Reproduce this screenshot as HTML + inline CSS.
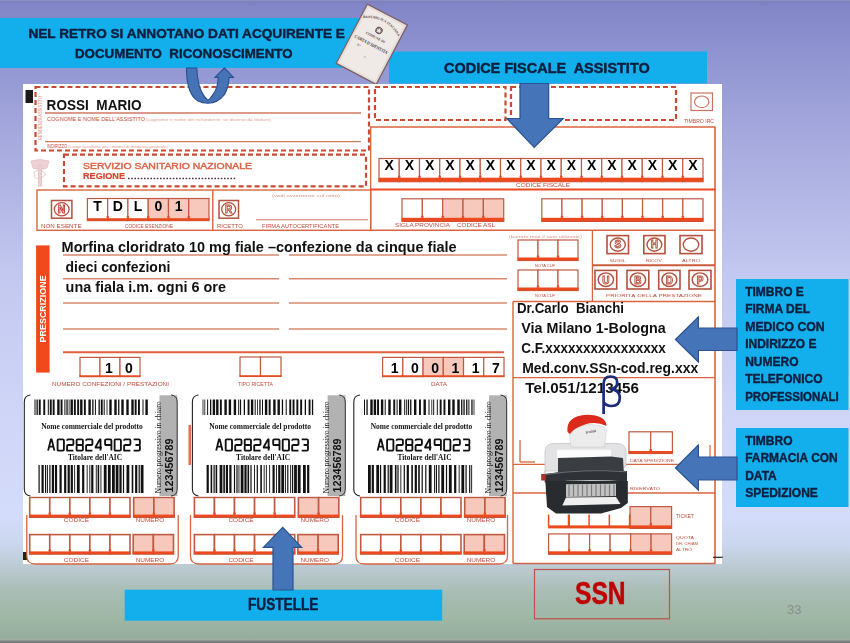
<!DOCTYPE html>
<html><head><meta charset="utf-8">
<style>
*{margin:0;padding:0}
html,body{width:850px;height:643px;overflow:hidden}
body{position:relative;font-family:"Liberation Sans",sans-serif;
background:linear-gradient(to bottom,#9a9cb8 0px,#7c80bc 1px,#8286c8 6px,#9ca0d8 100px,#afb3e3 180px,#c3c8f0 275px,#ced4f6 400px,#d4dcfb 515px,#cad6ee 545px,#b8c8cc 572px,#a8bcb4 592px,#a0b8a6 615px,#95ad9d 639px,#a8aca8 640px,#7a807e 641px,#767c7a 643px)}
svg{position:absolute;left:0;top:0;filter:blur(0.3px)}
</style></head><body>
<svg width="850" height="643" viewBox="0 0 850 643">
<defs><g id="aic" fill="none" stroke="#111" stroke-width="1.85" stroke-linejoin="round"><path transform="translate(1.30,0)" d="M0 11.2 L2.75 0 H3.55 L6.3 11.2 M1.134 7.167999999999999 H5.1659999999999995"/><path transform="translate(10.80,0)" d="M1.1 0 H5.199999999999999 Q6.3 0 6.3 1.1 V10.1 Q6.3 11.2 5.199999999999999 11.2 H1.1 Q0 11.2 0 10.1 V1.1 Q0 0 1.1 0 Z"/><path transform="translate(20.30,0)" d="M0 1.3 Q0 0 1.1 0 H5.199999999999999 Q6.3 0 6.3 1.1 V4.5 Q6.3 5.6 5.199999999999999 5.6 H1.1 Q0 5.6 0 6.699999999999999 V11.2 H6.3"/><path transform="translate(29.80,0)" d="M1.1 0 H5.199999999999999 Q6.3 0 6.3 1.1 V4.5 Q6.3 5.6 5.199999999999999 5.6 H1.1 Q0 5.6 0 4.5 V1.1 Q0 0 1.1 0 Z M1.1 5.6 H5.199999999999999 Q6.3 5.6 6.3 6.699999999999999 V10.1 Q6.3 11.2 5.199999999999999 11.2 H1.1 Q0 11.2 0 10.1 V6.699999999999999 Q0 5.6 1.1 5.6"/><path transform="translate(39.30,0)" d="M0 1.3 Q0 0 1.1 0 H5.199999999999999 Q6.3 0 6.3 1.1 V4.5 Q6.3 5.6 5.199999999999999 5.6 H1.1 Q0 5.6 0 6.699999999999999 V11.2 H6.3"/><path transform="translate(48.80,0)" d="M4.914 11.2 V0 H4.284 L0 7.616 V8.064 H6.3"/><path transform="translate(58.30,0)" d="M6.3 5.6 H1.1 Q0 5.6 0 4.5 V1.1 Q0 0 1.1 0 H5.199999999999999 Q6.3 0 6.3 1.1 V11.2"/><path transform="translate(67.80,0)" d="M1.1 0 H5.199999999999999 Q6.3 0 6.3 1.1 V10.1 Q6.3 11.2 5.199999999999999 11.2 H1.1 Q0 11.2 0 10.1 V1.1 Q0 0 1.1 0 Z"/><path transform="translate(77.30,0)" d="M0 1.3 Q0 0 1.1 0 H5.199999999999999 Q6.3 0 6.3 1.1 V4.5 Q6.3 5.6 5.199999999999999 5.6 H1.1 Q0 5.6 0 6.699999999999999 V11.2 H6.3"/><path transform="translate(86.80,0)" d="M0 0 H5.199999999999999 Q6.3 0 6.3 1.1 V4.5 Q6.3 5.6 5.199999999999999 5.6 H1.89 M5.199999999999999 5.6 Q6.3 5.6 6.3 6.699999999999999 V10.1 Q6.3 11.2 5.199999999999999 11.2 H0"/></g></defs>
<rect x="0" y="18" width="362" height="50" fill="#12afec"/>
<rect x="389" y="51.5" width="318" height="32" fill="#12afec"/>
<g transform="translate(371.8,44.2) rotate(27.7)">
<rect x="-22.6" y="-33.5" width="45.2" height="67" fill="#e8e0da" stroke="#7c6066" stroke-width="1.3"/>
<rect x="-20.5" y="-31.5" width="41" height="63" fill="#efeae6" stroke="#dcd2cc" stroke-width="0.5"/>
<path id="arc" d="M-20 -19 Q0 -32 20 -19" fill="none"/>
<text font-family="Liberation Serif" font-size="3.6" font-weight="bold" fill="#5a4a4a"><textPath href="#arc" startOffset="50%" text-anchor="middle">REPUBBLICA ITALIANA</textPath></text>
<circle cx="0" cy="-15.5" r="3.4" fill="#8a7a7a" stroke="#4a3a3a" stroke-width="0.6"/>
<path d="M0 -18 L0.9 -16.2 L2.6 -16 L1.3 -14.8 L1.6 -13 L0 -14 L-1.6 -13 L-1.3 -14.8 L-2.6 -16 L-0.9 -16.2 Z" fill="#f0eaea"/>
<text x="0" y="-6.5" font-family="Liberation Serif" font-size="3.6" font-weight="bold" fill="#5a4a4a" text-anchor="middle">COMUNE DI</text>
<text x="0" y="2" font-family="Liberation Serif" font-size="4.6" font-weight="bold" fill="#4a3a3a" text-anchor="middle" textLength="38" lengthAdjust="spacingAndGlyphs">CARTA D'IDENTITA'</text>
<text x="-13" y="8" font-family="Liberation Serif" font-size="3.6" fill="#5a4a4a">N°</text>
<text x="0" y="16" font-family="Liberation Serif" font-size="4" fill="#5a4a4a" text-anchor="middle">=</text>
</g>
<rect x="23" y="84" width="699" height="480" fill="#fff"/>
<rect x="25.5" y="90" width="7.5" height="13" fill="#1a1a1a"/>
<rect x="35.5" y="87" width="333.5" height="63.5" fill="none" stroke="#c84a32" stroke-width="2.2" stroke-dasharray="5 3"/>
<line x1="45" y1="113" x2="361" y2="113" stroke="#d07a62" stroke-width="1.4"/>
<text x="47" y="121" font-family="Liberation Sans" font-size="5.4" font-weight="normal" fill="#c24e3e" textLength="98" lengthAdjust="spacingAndGlyphs">COGNOME E NOME DELL'ASSISTITO</text>
<text x="146" y="121" font-family="Liberation Sans" font-size="3.6" font-weight="normal" fill="#e2a094" textLength="125" lengthAdjust="spacingAndGlyphs">(cognome e nome del richiedente, se diverso da titolare)</text>
<line x1="45" y1="141.6" x2="361" y2="141.6" stroke="#d07a62" stroke-width="1.2"/>
<text x="47" y="148" font-family="Liberation Sans" font-size="5.2" font-weight="normal" fill="#c24e3e" textLength="20" lengthAdjust="spacingAndGlyphs">INDIRIZZO</text>
<text x="68" y="148" font-family="Liberation Sans" font-size="3.6" font-weight="normal" fill="#e2a094" textLength="100" lengthAdjust="spacingAndGlyphs">(campi facoltativi per i medici di medicina generale)</text>
<text transform="translate(42,140) rotate(-90)" font-family="Liberation Sans" font-size="4.6" fill="#e09080" textLength="44" lengthAdjust="spacingAndGlyphs">RESIDENZA ASSISTITO</text>
<rect x="64" y="154.7" width="302" height="31.600000000000023" fill="none" stroke="#c84a32" stroke-width="2.2" stroke-dasharray="5 3"/>
<g fill="#ecd2d2" stroke="#e6c0c0" stroke-width="0.8"><path d="M31 161 Q40 158 49 161 L47 168 Q40 171 33 168 Z"/><rect x="38.5" y="165" width="3" height="21"/><path d="M34 172 Q40 168 46 174 Q40 180 35 178 Z" fill="none"/></g>
<text x="83" y="168.8" font-family="Liberation Sans" font-size="8.8" font-weight="normal" fill="#e06448" textLength="169" lengthAdjust="spacingAndGlyphs" stroke="#e06448" stroke-width="0.45">SERVIZIO SANITARIO NAZIONALE</text>
<text x="83" y="179.4" font-family="Liberation Sans" font-size="9.4" font-weight="bold" fill="#d8442e" textLength="42" lengthAdjust="spacingAndGlyphs" stroke="#d8442e" stroke-width="0.2">REGIONE</text>
<line x1="128" y1="178.5" x2="236" y2="178.5" stroke="#50304a" stroke-width="1.6" stroke-dasharray="1.6 1.6"/>
<rect x="375" y="87" width="130.5" height="33" fill="none" stroke="#c84a32" stroke-width="2.2" stroke-dasharray="5 3"/>
<rect x="511" y="87" width="165" height="33" fill="none" stroke="#c84a32" stroke-width="2.2" stroke-dasharray="5 3"/>
<rect x="691" y="93" width="21.5" height="17.5" fill="none" stroke="#c9735c" stroke-width="1.2"/>
<ellipse cx="701.7" cy="101.8" rx="7.2" ry="5.8" fill="none" stroke="#c9735c" stroke-width="1.2"/>
<text x="684" y="122.5" font-family="Liberation Sans" font-size="4.6" font-weight="normal" fill="#c24e3e" textLength="30" lengthAdjust="spacingAndGlyphs">TIMBRO IRC</text>
<line x1="370.7" y1="126.6" x2="370.7" y2="230.5" stroke="#d9643f" stroke-width="1.3"/>
<line x1="370" y1="127" x2="715.5" y2="127" stroke="#d9643f" stroke-width="1.6"/>
<line x1="715" y1="127" x2="715" y2="563.5" stroke="#d9643f" stroke-width="1.6"/>
<rect x="379.0" y="158.5" width="20.25" height="23.19999999999999" fill="#fff" stroke="#bf5a42" stroke-width="1.2"/>
<rect x="399.25" y="158.5" width="20.25" height="23.19999999999999" fill="#fff" stroke="#bf5a42" stroke-width="1.2"/>
<rect x="419.5" y="158.5" width="20.25" height="23.19999999999999" fill="#fff" stroke="#bf5a42" stroke-width="1.2"/>
<rect x="439.75" y="158.5" width="20.25" height="23.19999999999999" fill="#fff" stroke="#bf5a42" stroke-width="1.2"/>
<rect x="460.0" y="158.5" width="20.25" height="23.19999999999999" fill="#fff" stroke="#bf5a42" stroke-width="1.2"/>
<rect x="480.25" y="158.5" width="20.25" height="23.19999999999999" fill="#fff" stroke="#bf5a42" stroke-width="1.2"/>
<rect x="500.5" y="158.5" width="20.25" height="23.19999999999999" fill="#fff" stroke="#bf5a42" stroke-width="1.2"/>
<rect x="520.75" y="158.5" width="20.25" height="23.19999999999999" fill="#fff" stroke="#bf5a42" stroke-width="1.2"/>
<rect x="541.0" y="158.5" width="20.25" height="23.19999999999999" fill="#fff" stroke="#bf5a42" stroke-width="1.2"/>
<rect x="561.25" y="158.5" width="20.25" height="23.19999999999999" fill="#fff" stroke="#bf5a42" stroke-width="1.2"/>
<rect x="581.5" y="158.5" width="20.25" height="23.19999999999999" fill="#fff" stroke="#bf5a42" stroke-width="1.2"/>
<rect x="601.75" y="158.5" width="20.25" height="23.19999999999999" fill="#fff" stroke="#bf5a42" stroke-width="1.2"/>
<rect x="622.0" y="158.5" width="20.25" height="23.19999999999999" fill="#fff" stroke="#bf5a42" stroke-width="1.2"/>
<rect x="642.25" y="158.5" width="20.25" height="23.19999999999999" fill="#fff" stroke="#bf5a42" stroke-width="1.2"/>
<rect x="662.5" y="158.5" width="20.25" height="23.19999999999999" fill="#fff" stroke="#bf5a42" stroke-width="1.2"/>
<rect x="682.75" y="158.5" width="20.25" height="23.19999999999999" fill="#fff" stroke="#bf5a42" stroke-width="1.2"/>
<rect x="378.5" y="177.7" width="325" height="4" fill="#ec4a1e"/>
<rect x="398.05" y="175.7" width="2.4" height="2" fill="#ec4a1e"/>
<rect x="418.3" y="175.7" width="2.4" height="2" fill="#ec4a1e"/>
<rect x="438.55" y="175.7" width="2.4" height="2" fill="#ec4a1e"/>
<rect x="458.8" y="175.7" width="2.4" height="2" fill="#ec4a1e"/>
<rect x="479.05" y="175.7" width="2.4" height="2" fill="#ec4a1e"/>
<rect x="499.3" y="175.7" width="2.4" height="2" fill="#ec4a1e"/>
<rect x="519.55" y="175.7" width="2.4" height="2" fill="#ec4a1e"/>
<rect x="539.8" y="175.7" width="2.4" height="2" fill="#ec4a1e"/>
<rect x="560.05" y="175.7" width="2.4" height="2" fill="#ec4a1e"/>
<rect x="580.3" y="175.7" width="2.4" height="2" fill="#ec4a1e"/>
<rect x="600.55" y="175.7" width="2.4" height="2" fill="#ec4a1e"/>
<rect x="620.8" y="175.7" width="2.4" height="2" fill="#ec4a1e"/>
<rect x="641.05" y="175.7" width="2.4" height="2" fill="#ec4a1e"/>
<rect x="661.3" y="175.7" width="2.4" height="2" fill="#ec4a1e"/>
<rect x="681.55" y="175.7" width="2.4" height="2" fill="#ec4a1e"/>
<text x="389.12" y="170.3" font-family="Liberation Sans" font-size="14" font-weight="bold" fill="#000" text-anchor="middle">X</text>
<text x="409.38" y="170.3" font-family="Liberation Sans" font-size="14" font-weight="bold" fill="#000" text-anchor="middle">X</text>
<text x="429.62" y="170.3" font-family="Liberation Sans" font-size="14" font-weight="bold" fill="#000" text-anchor="middle">X</text>
<text x="449.88" y="170.3" font-family="Liberation Sans" font-size="14" font-weight="bold" fill="#000" text-anchor="middle">X</text>
<text x="470.12" y="170.3" font-family="Liberation Sans" font-size="14" font-weight="bold" fill="#000" text-anchor="middle">X</text>
<text x="490.38" y="170.3" font-family="Liberation Sans" font-size="14" font-weight="bold" fill="#000" text-anchor="middle">X</text>
<text x="510.62" y="170.3" font-family="Liberation Sans" font-size="14" font-weight="bold" fill="#000" text-anchor="middle">X</text>
<text x="530.88" y="170.3" font-family="Liberation Sans" font-size="14" font-weight="bold" fill="#000" text-anchor="middle">X</text>
<text x="551.12" y="170.3" font-family="Liberation Sans" font-size="14" font-weight="bold" fill="#000" text-anchor="middle">X</text>
<text x="571.38" y="170.3" font-family="Liberation Sans" font-size="14" font-weight="bold" fill="#000" text-anchor="middle">X</text>
<text x="591.62" y="170.3" font-family="Liberation Sans" font-size="14" font-weight="bold" fill="#000" text-anchor="middle">X</text>
<text x="611.88" y="170.3" font-family="Liberation Sans" font-size="14" font-weight="bold" fill="#000" text-anchor="middle">X</text>
<text x="632.12" y="170.3" font-family="Liberation Sans" font-size="14" font-weight="bold" fill="#000" text-anchor="middle">X</text>
<text x="652.38" y="170.3" font-family="Liberation Sans" font-size="14" font-weight="bold" fill="#000" text-anchor="middle">X</text>
<text x="672.62" y="170.3" font-family="Liberation Sans" font-size="14" font-weight="bold" fill="#000" text-anchor="middle">X</text>
<text x="692.88" y="170.3" font-family="Liberation Sans" font-size="14" font-weight="bold" fill="#000" text-anchor="middle">X</text>
<text x="516" y="187.3" font-family="Liberation Sans" font-size="4.6" font-weight="normal" fill="#c24e3e" textLength="54" lengthAdjust="spacingAndGlyphs">CODICE FISCALE</text>
<line x1="370" y1="189.4" x2="715.5" y2="189.4" stroke="#ec4a1e" stroke-width="2"/>
<rect x="37" y="190" width="333.7" height="40.3" fill="none" stroke="#d9643f" stroke-width="1.4"/>
<line x1="212.8" y1="190" x2="212.8" y2="230.3" stroke="#d9643f" stroke-width="1.4"/>
<rect x="51.5" y="200.5" width="20.4" height="17.7" fill="none" stroke="#b4503c" stroke-width="1.5"/>
<ellipse cx="61.7" cy="209.3" rx="7.4" ry="6.6" fill="none" stroke="#b4503c" stroke-width="1.3"/>
<text x="61.7" y="213.3" font-family="Liberation Sans" font-size="10" font-weight="bold" fill="#fff" text-anchor="middle" stroke="#c43a30" stroke-width="0.9">N</text>
<text x="41" y="227.6" font-family="Liberation Sans" font-size="5.2" font-weight="normal" fill="#c24e3e" textLength="40.6" lengthAdjust="spacingAndGlyphs">NON ESENTE</text>
<rect x="87.4" y="198.5" width="20.27" height="22.099999999999994" fill="#fff" stroke="#bf5a42" stroke-width="1.2"/>
<rect x="107.67" y="198.5" width="20.27" height="22.099999999999994" fill="#fff" stroke="#bf5a42" stroke-width="1.2"/>
<rect x="127.93" y="198.5" width="20.27" height="22.099999999999994" fill="#fff" stroke="#bf5a42" stroke-width="1.2"/>
<rect x="148.2" y="198.5" width="20.27" height="22.099999999999994" fill="#f6c9bc" stroke="#bf5a42" stroke-width="1.2"/>
<rect x="168.47" y="198.5" width="20.27" height="22.099999999999994" fill="#f6c9bc" stroke="#bf5a42" stroke-width="1.2"/>
<rect x="188.73" y="198.5" width="20.27" height="22.099999999999994" fill="#f6c9bc" stroke="#bf5a42" stroke-width="1.2"/>
<rect x="86.9" y="218.2" width="122.6" height="2.4" fill="#ec4a1e"/>
<rect x="106.47" y="216.2" width="2.4" height="2" fill="#ec4a1e"/>
<rect x="126.73" y="216.2" width="2.4" height="2" fill="#ec4a1e"/>
<rect x="147.0" y="216.2" width="2.4" height="2" fill="#ec4a1e"/>
<rect x="167.27" y="216.2" width="2.4" height="2" fill="#ec4a1e"/>
<rect x="187.53" y="216.2" width="2.4" height="2" fill="#ec4a1e"/>
<text x="97.53" y="211.2" font-family="Liberation Sans" font-size="14" font-weight="bold" fill="#000" text-anchor="middle">T</text>
<text x="117.8" y="211.2" font-family="Liberation Sans" font-size="14" font-weight="bold" fill="#000" text-anchor="middle">D</text>
<text x="138.07" y="211.2" font-family="Liberation Sans" font-size="14" font-weight="bold" fill="#000" text-anchor="middle">L</text>
<text x="158.33" y="211.2" font-family="Liberation Sans" font-size="14" font-weight="bold" fill="#000" text-anchor="middle">0</text>
<text x="178.6" y="211.2" font-family="Liberation Sans" font-size="14" font-weight="bold" fill="#000" text-anchor="middle">1</text>
<text x="125" y="227.6" font-family="Liberation Sans" font-size="5.2" font-weight="normal" fill="#c24e3e" textLength="48" lengthAdjust="spacingAndGlyphs">CODICE ESENZIONE</text>
<rect x="219" y="200.5" width="19.5" height="17.7" fill="none" stroke="#b4503c" stroke-width="1.5"/>
<ellipse cx="228.7" cy="209.3" rx="7" ry="6.6" fill="none" stroke="#b4503c" stroke-width="1.3"/>
<text x="228.7" y="213.3" font-family="Liberation Sans" font-size="10" font-weight="bold" fill="#fff" text-anchor="middle" stroke="#b4503c" stroke-width="0.9">R</text>
<text x="217" y="227.6" font-family="Liberation Sans" font-size="5.2" font-weight="normal" fill="#c24e3e" textLength="26" lengthAdjust="spacingAndGlyphs">RICETTO</text>
<text x="262" y="227.6" font-family="Liberation Sans" font-size="5.2" font-weight="normal" fill="#c24e3e" textLength="77" lengthAdjust="spacingAndGlyphs">FIRMA AUTOCERTIFICANTE</text>
<line x1="256" y1="219.8" x2="368" y2="219.8" stroke="#d07a62" stroke-width="1.1"/>
<text x="272" y="197" font-family="Liberation Sans" font-size="4.2" font-weight="normal" fill="#d89484" textLength="68" lengthAdjust="spacingAndGlyphs">(vedi avvertenze sul retro)</text>
<rect x="402.0" y="198.8" width="20.34" height="22.599999999999994" fill="#fff" stroke="#bf5a42" stroke-width="1.2"/>
<rect x="422.34" y="198.8" width="20.34" height="22.599999999999994" fill="#fff" stroke="#bf5a42" stroke-width="1.2"/>
<rect x="442.68" y="198.8" width="20.34" height="22.599999999999994" fill="#f6c9bc" stroke="#bf5a42" stroke-width="1.2"/>
<rect x="463.02" y="198.8" width="20.34" height="22.599999999999994" fill="#f6c9bc" stroke="#bf5a42" stroke-width="1.2"/>
<rect x="483.36" y="198.8" width="20.34" height="22.599999999999994" fill="#f6c9bc" stroke="#bf5a42" stroke-width="1.2"/>
<rect x="401.5" y="217.8" width="102.69999999999999" height="3.6" fill="#ec4a1e"/>
<rect x="421.14" y="215.8" width="2.4" height="2" fill="#ec4a1e"/>
<rect x="441.48" y="215.8" width="2.4" height="2" fill="#ec4a1e"/>
<rect x="461.82" y="215.8" width="2.4" height="2" fill="#ec4a1e"/>
<rect x="482.16" y="215.8" width="2.4" height="2" fill="#ec4a1e"/>
<text x="395" y="226.5" font-family="Liberation Sans" font-size="4.6" font-weight="normal" fill="#c24e3e" textLength="55" lengthAdjust="spacingAndGlyphs">SIGLA PROVINCIA</text>
<text x="457" y="226.5" font-family="Liberation Sans" font-size="4.6" font-weight="normal" fill="#c24e3e" textLength="38" lengthAdjust="spacingAndGlyphs">CODICE ASL</text>
<rect x="541.8" y="198.8" width="20.15" height="22.599999999999994" fill="#fff" stroke="#bf5a42" stroke-width="1.2"/>
<rect x="561.95" y="198.8" width="20.15" height="22.599999999999994" fill="#fff" stroke="#bf5a42" stroke-width="1.2"/>
<rect x="582.1" y="198.8" width="20.15" height="22.599999999999994" fill="#fff" stroke="#bf5a42" stroke-width="1.2"/>
<rect x="602.25" y="198.8" width="20.15" height="22.599999999999994" fill="#fff" stroke="#bf5a42" stroke-width="1.2"/>
<rect x="622.4" y="198.8" width="20.15" height="22.599999999999994" fill="#fff" stroke="#bf5a42" stroke-width="1.2"/>
<rect x="642.55" y="198.8" width="20.15" height="22.599999999999994" fill="#fff" stroke="#bf5a42" stroke-width="1.2"/>
<rect x="662.7" y="198.8" width="20.15" height="22.599999999999994" fill="#fff" stroke="#bf5a42" stroke-width="1.2"/>
<rect x="682.85" y="198.8" width="20.15" height="22.599999999999994" fill="#fff" stroke="#bf5a42" stroke-width="1.2"/>
<rect x="541.3" y="217.8" width="162.20000000000005" height="3.6" fill="#ec4a1e"/>
<rect x="560.75" y="215.8" width="2.4" height="2" fill="#ec4a1e"/>
<rect x="580.9" y="215.8" width="2.4" height="2" fill="#ec4a1e"/>
<rect x="601.05" y="215.8" width="2.4" height="2" fill="#ec4a1e"/>
<rect x="621.2" y="215.8" width="2.4" height="2" fill="#ec4a1e"/>
<rect x="641.35" y="215.8" width="2.4" height="2" fill="#ec4a1e"/>
<rect x="661.5" y="215.8" width="2.4" height="2" fill="#ec4a1e"/>
<rect x="681.65" y="215.8" width="2.4" height="2" fill="#ec4a1e"/>
<line x1="370" y1="230.3" x2="715.5" y2="230.3" stroke="#d9643f" stroke-width="1.5"/>
<rect x="36.1" y="245.4" width="13.5" height="127.2" fill="#f04a1c"/>
<text transform="translate(45.6,342.4) rotate(-90)" font-family="Liberation Sans" font-weight="bold" font-size="9.6" fill="#fff" textLength="67" lengthAdjust="spacingAndGlyphs">PRESCRIZIONE</text>
<line x1="63" y1="255" x2="279" y2="255" stroke="#d9896e" stroke-width="1.6"/>
<line x1="289" y1="255" x2="507" y2="255" stroke="#d9896e" stroke-width="1.6"/>
<line x1="63" y1="278.8" x2="279" y2="278.8" stroke="#d9896e" stroke-width="1.6"/>
<line x1="289" y1="278.8" x2="507" y2="278.8" stroke="#d9896e" stroke-width="1.6"/>
<line x1="63" y1="303" x2="279" y2="303" stroke="#d9896e" stroke-width="1.6"/>
<line x1="289" y1="303" x2="507" y2="303" stroke="#d9896e" stroke-width="1.6"/>
<line x1="63" y1="329" x2="279" y2="329" stroke="#d9896e" stroke-width="1.6"/>
<line x1="289" y1="329" x2="507" y2="329" stroke="#d9896e" stroke-width="1.6"/>
<line x1="63" y1="352.2" x2="504" y2="352.2" stroke="#e06040" stroke-width="2"/>
<text x="61.6" y="251.5" font-family="Liberation Sans" font-size="14.5" font-weight="bold" fill="#111" textLength="395" lengthAdjust="spacingAndGlyphs">Morfina cloridrato 10 mg fiale –confezione da cinque fiale</text>
<text x="65.6" y="272.2" font-family="Liberation Sans" font-size="14.3" font-weight="bold" fill="#111" textLength="104.7" lengthAdjust="spacingAndGlyphs">dieci confezioni</text>
<text x="65.6" y="292.2" font-family="Liberation Sans" font-size="14.3" font-weight="bold" fill="#111" textLength="160.4" lengthAdjust="spacingAndGlyphs">una fiala i.m. ogni 6 ore</text>
<text x="46.6" y="110.2" font-family="Liberation Sans" font-size="14.6" font-weight="bold" fill="#111" textLength="95" lengthAdjust="spacingAndGlyphs">ROSSI&#160; MARIO</text>
<rect x="80.0" y="357.4" width="20.0" height="19.200000000000045" fill="#fff" stroke="#bf5a42" stroke-width="1.2"/>
<rect x="100.0" y="357.4" width="20.0" height="19.200000000000045" fill="#fff" stroke="#bf5a42" stroke-width="1.2"/>
<rect x="120.0" y="357.4" width="20.0" height="19.200000000000045" fill="#fff" stroke="#bf5a42" stroke-width="1.2"/>
<text x="109.0" y="373.2" font-family="Liberation Sans" font-size="14" font-weight="bold" fill="#000" text-anchor="middle">1</text>
<text x="129.0" y="373.2" font-family="Liberation Sans" font-size="14" font-weight="bold" fill="#000" text-anchor="middle">0</text>
<line x1="79.1" y1="376" x2="140.5" y2="376" stroke="#ec4a1e" stroke-width="1.6"/>
<text x="52" y="385.5" font-family="Liberation Sans" font-size="5" font-weight="normal" fill="#c24e3e" textLength="117" lengthAdjust="spacingAndGlyphs">NUMERO CONFEZIONI / PRESTAZIONI</text>
<rect x="240.0" y="357" width="20.5" height="19.399999999999977" fill="#fff" stroke="#bf5a42" stroke-width="1.2"/>
<rect x="260.5" y="357" width="20.5" height="19.399999999999977" fill="#fff" stroke="#bf5a42" stroke-width="1.2"/>
<line x1="239.5" y1="376" x2="281.5" y2="376" stroke="#ec4a1e" stroke-width="1.6"/>
<text x="238" y="385.5" font-family="Liberation Sans" font-size="5" font-weight="normal" fill="#c24e3e" textLength="35" lengthAdjust="spacingAndGlyphs">TIPO RICETTA</text>
<rect x="382.6" y="357.4" width="20.23" height="19.200000000000045" fill="#fff" stroke="#bf5a42" stroke-width="1.2"/>
<rect x="402.83" y="357.4" width="20.23" height="19.200000000000045" fill="#fff" stroke="#bf5a42" stroke-width="1.2"/>
<rect x="423.07" y="357.4" width="20.23" height="19.200000000000045" fill="#f6c9bc" stroke="#bf5a42" stroke-width="1.2"/>
<rect x="443.3" y="357.4" width="20.23" height="19.200000000000045" fill="#f6c9bc" stroke="#bf5a42" stroke-width="1.2"/>
<rect x="463.53" y="357.4" width="20.23" height="19.200000000000045" fill="#fff" stroke="#bf5a42" stroke-width="1.2"/>
<rect x="483.77" y="357.4" width="20.23" height="19.200000000000045" fill="#fff" stroke="#bf5a42" stroke-width="1.2"/>
<text x="394.72" y="373.2" font-family="Liberation Sans" font-size="14" font-weight="bold" fill="#000" text-anchor="middle">1</text>
<text x="414.95" y="373.2" font-family="Liberation Sans" font-size="14" font-weight="bold" fill="#000" text-anchor="middle">0</text>
<text x="435.18" y="373.2" font-family="Liberation Sans" font-size="14" font-weight="bold" fill="#000" text-anchor="middle">0</text>
<text x="455.42" y="373.2" font-family="Liberation Sans" font-size="14" font-weight="bold" fill="#000" text-anchor="middle">1</text>
<text x="475.65" y="373.2" font-family="Liberation Sans" font-size="14" font-weight="bold" fill="#000" text-anchor="middle">1</text>
<text x="495.88" y="373.2" font-family="Liberation Sans" font-size="14" font-weight="bold" fill="#000" text-anchor="middle">7</text>
<line x1="382.1" y1="376" x2="504.5" y2="376" stroke="#ec4a1e" stroke-width="1.6"/>
<text x="431" y="385.5" font-family="Liberation Sans" font-size="5" font-weight="normal" fill="#c24e3e" textLength="16" lengthAdjust="spacingAndGlyphs">DATA</text>
<text x="509" y="237.5" font-family="Liberation Sans" font-size="4.2" font-weight="normal" fill="#d89484" textLength="73" lengthAdjust="spacingAndGlyphs">(barrare max 2 note utilizzate)</text>
<rect x="518.0" y="240" width="20.0" height="20.5" fill="#fff" stroke="#bf5a42" stroke-width="1.2"/>
<rect x="538.0" y="240" width="20.0" height="20.5" fill="#fff" stroke="#bf5a42" stroke-width="1.2"/>
<rect x="558.0" y="240" width="20.0" height="20.5" fill="#fff" stroke="#bf5a42" stroke-width="1.2"/>
<rect x="517.5" y="257.5" width="61" height="3" fill="#ec4a1e"/>
<rect x="536.8" y="255.5" width="2.4" height="2" fill="#ec4a1e"/>
<rect x="556.8" y="255.5" width="2.4" height="2" fill="#ec4a1e"/>
<text x="535" y="267" font-family="Liberation Sans" font-size="4.4" font-weight="normal" fill="#c24e3e" textLength="20" lengthAdjust="spacingAndGlyphs">NOTA CUF</text>
<rect x="518.0" y="270" width="20.0" height="20.5" fill="#fff" stroke="#bf5a42" stroke-width="1.2"/>
<rect x="538.0" y="270" width="20.0" height="20.5" fill="#fff" stroke="#bf5a42" stroke-width="1.2"/>
<rect x="558.0" y="270" width="20.0" height="20.5" fill="#fff" stroke="#bf5a42" stroke-width="1.2"/>
<rect x="517.5" y="287.5" width="61" height="3" fill="#ec4a1e"/>
<rect x="536.8" y="285.5" width="2.4" height="2" fill="#ec4a1e"/>
<rect x="556.8" y="285.5" width="2.4" height="2" fill="#ec4a1e"/>
<text x="535" y="297" font-family="Liberation Sans" font-size="4.4" font-weight="normal" fill="#c24e3e" textLength="20" lengthAdjust="spacingAndGlyphs">NOTA CUF</text>
<line x1="592.4" y1="230.3" x2="592.4" y2="301.5" stroke="#d9643f" stroke-width="1.3"/>
<line x1="592.4" y1="265.2" x2="715" y2="265.2" stroke="#cc5a3e" stroke-width="2"/>
<rect x="607" y="235.6" width="21.5" height="18" fill="none" stroke="#b4503c" stroke-width="1.6"/>
<ellipse cx="617.75" cy="244.6" rx="7.55" ry="6.6" fill="none" stroke="#b4503c" stroke-width="1.4"/>
<text x="617.75" y="248.4" font-family="Liberation Sans" font-size="10" font-weight="bold" fill="#fff" text-anchor="middle" stroke="#b4503c" stroke-width="0.9">S</text>
<text x="609.75" y="261.5" font-family="Liberation Sans" font-size="4.4" font-weight="normal" fill="#c24e3e" textLength="16" lengthAdjust="spacingAndGlyphs">SUGG.</text>
<rect x="643.8" y="235.6" width="21.200000000000045" height="18" fill="none" stroke="#b4503c" stroke-width="1.6"/>
<ellipse cx="654.4" cy="244.6" rx="7.400000000000023" ry="6.6" fill="none" stroke="#b4503c" stroke-width="1.4"/>
<text x="654.4" y="248.4" font-family="Liberation Sans" font-size="10" font-weight="bold" fill="#fff" text-anchor="middle" stroke="#b4503c" stroke-width="0.9">H</text>
<text x="645.9" y="261.5" font-family="Liberation Sans" font-size="4.4" font-weight="normal" fill="#c24e3e" textLength="17" lengthAdjust="spacingAndGlyphs">RICOV.</text>
<rect x="680" y="235.6" width="22" height="18" fill="none" stroke="#b4503c" stroke-width="1.6"/>
<ellipse cx="691.0" cy="244.6" rx="7.8" ry="6.6" fill="none" stroke="#b4503c" stroke-width="1.4"/>
<text x="682.0" y="261.5" font-family="Liberation Sans" font-size="4.4" font-weight="normal" fill="#c24e3e" textLength="18" lengthAdjust="spacingAndGlyphs">ALTRO</text>
<rect x="595" y="270.4" width="21.700000000000045" height="18.6" fill="none" stroke="#b4503c" stroke-width="1.6"/>
<ellipse cx="605.85" cy="279.7" rx="7.650000000000023" ry="6.8" fill="none" stroke="#b4503c" stroke-width="1.4"/>
<text x="605.85" y="283.5" font-family="Liberation Sans" font-size="10" font-weight="bold" fill="#fff" text-anchor="middle" stroke="#b4503c" stroke-width="0.9">U</text>
<rect x="627" y="270.4" width="21.799999999999955" height="18.6" fill="none" stroke="#b4503c" stroke-width="1.6"/>
<ellipse cx="637.9" cy="279.7" rx="7.699999999999977" ry="6.8" fill="none" stroke="#b4503c" stroke-width="1.4"/>
<text x="637.9" y="283.5" font-family="Liberation Sans" font-size="10" font-weight="bold" fill="#fff" text-anchor="middle" stroke="#b4503c" stroke-width="0.9">B</text>
<rect x="658.7" y="270.4" width="21.299999999999955" height="18.6" fill="none" stroke="#b4503c" stroke-width="1.6"/>
<ellipse cx="669.35" cy="279.7" rx="7.449999999999977" ry="6.8" fill="none" stroke="#b4503c" stroke-width="1.4"/>
<text x="669.35" y="283.5" font-family="Liberation Sans" font-size="10" font-weight="bold" fill="#fff" text-anchor="middle" stroke="#b4503c" stroke-width="0.9">D</text>
<rect x="689" y="270.4" width="22" height="18.6" fill="none" stroke="#b4503c" stroke-width="1.6"/>
<ellipse cx="700.0" cy="279.7" rx="7.8" ry="6.8" fill="none" stroke="#b4503c" stroke-width="1.4"/>
<text x="700.0" y="283.5" font-family="Liberation Sans" font-size="10" font-weight="bold" fill="#fff" text-anchor="middle" stroke="#b4503c" stroke-width="0.9">P</text>
<text x="606" y="297" font-family="Liberation Sans" font-size="4.4" font-weight="normal" fill="#c24e3e" textLength="96" lengthAdjust="spacingAndGlyphs">PRIORITÀ DELLA PRESTAZIONE</text>
<line x1="513" y1="301.5" x2="715" y2="301.5" stroke="#d9643f" stroke-width="1.4"/>
<line x1="513" y1="301.5" x2="513" y2="563.5" stroke="#d9643f" stroke-width="1.4"/>
<line x1="513" y1="377.6" x2="715" y2="377.6" stroke="#d9643f" stroke-width="1.4"/>
<text x="517" y="312.6" font-family="Liberation Sans" font-size="14" font-weight="bold" fill="#111" textLength="107" lengthAdjust="spacingAndGlyphs">Dr.Carlo&#160; Bianchi</text>
<text x="521.3" y="333.3" font-family="Liberation Sans" font-size="14" font-weight="bold" fill="#111" textLength="144.5" lengthAdjust="spacingAndGlyphs">Via Milano 1-Bologna</text>
<text x="521.3" y="352.6" font-family="Liberation Sans" font-size="14" font-weight="bold" fill="#111" textLength="144.5" lengthAdjust="spacingAndGlyphs">C.F.xxxxxxxxxxxxxxxx</text>
<text x="522.2" y="372.8" font-family="Liberation Sans" font-size="14" font-weight="bold" fill="#111" textLength="176" lengthAdjust="spacingAndGlyphs">Med.conv.SSn-cod.reg.xxx</text>
<text x="525.3" y="393.3" font-family="Liberation Sans" font-size="14" font-weight="bold" fill="#111" textLength="113.7" lengthAdjust="spacingAndGlyphs">Tel.051/1213456</text>
<rect x="629.0" y="431.8" width="21.7" height="21.69999999999999" fill="#fff" stroke="#bf5a42" stroke-width="1.2"/>
<rect x="650.7" y="431.8" width="21.7" height="21.69999999999999" fill="#fff" stroke="#bf5a42" stroke-width="1.2"/>
<rect x="628.5" y="451.0" width="44.39999999999998" height="2.5" fill="#ec4a1e"/>
<rect x="649.5" y="449.0" width="2.4" height="2" fill="#ec4a1e"/>
<line x1="513" y1="464.4" x2="715" y2="464.4" stroke="#d9643f" stroke-width="1.4"/>
<line x1="513" y1="493" x2="715" y2="493" stroke="#d9643f" stroke-width="1.4"/>
<text x="630" y="462" font-family="Liberation Sans" font-size="4.4" font-weight="normal" fill="#c24e3e" textLength="44" lengthAdjust="spacingAndGlyphs">DATA SPEDIZIONE</text>
<text x="630" y="490" font-family="Liberation Sans" font-size="4.4" font-weight="normal" fill="#c24e3e" textLength="30" lengthAdjust="spacingAndGlyphs">RISERVATO</text>
<line x1="520" y1="440" x2="520" y2="462" stroke="#d9643f" stroke-width="1.3"/>
<line x1="520" y1="462" x2="535" y2="462" stroke="#d9643f" stroke-width="1.3"/>
<line x1="710" y1="445" x2="710" y2="462" stroke="#d9643f" stroke-width="1.2"/>
<rect x="630.0" y="506.6" width="20.8" height="21.799999999999955" fill="#f6c9bc" stroke="#bf5a42" stroke-width="1.2"/>
<rect x="650.8" y="506.6" width="20.8" height="21.799999999999955" fill="#f6c9bc" stroke="#bf5a42" stroke-width="1.2"/>
<rect x="629.5" y="525.4" width="42.60000000000002" height="3" fill="#ec4a1e"/>
<rect x="649.6" y="523.4" width="2.4" height="2" fill="#ec4a1e"/>
<rect x="548.1" y="525.4" width="83" height="3" fill="#ec4a1e"/>
<line x1="548.6" y1="514.5" x2="548.6" y2="526" stroke="#ec4a1e" stroke-width="1.5"/>
<line x1="568.85" y1="514.5" x2="568.85" y2="526" stroke="#ec4a1e" stroke-width="2.2"/>
<line x1="589.1" y1="514.5" x2="589.1" y2="526" stroke="#ec4a1e" stroke-width="1.5"/>
<line x1="609.35" y1="514.5" x2="609.35" y2="526" stroke="#ec4a1e" stroke-width="1.5"/>
<line x1="629.6" y1="514.5" x2="629.6" y2="526" stroke="#ec4a1e" stroke-width="1.5"/>
<rect x="548.6" y="533.9" width="20.5" height="20.399999999999977" fill="#fff" stroke="#bf5a42" stroke-width="1.2"/>
<rect x="569.1" y="533.9" width="20.5" height="20.399999999999977" fill="#fff" stroke="#bf5a42" stroke-width="1.2"/>
<rect x="589.6" y="533.9" width="20.5" height="20.399999999999977" fill="#fff" stroke="#bf5a42" stroke-width="1.2"/>
<rect x="610.1" y="533.9" width="20.5" height="20.399999999999977" fill="#fff" stroke="#bf5a42" stroke-width="1.2"/>
<rect x="630.6" y="533.9" width="20.5" height="20.399999999999977" fill="#f6c9bc" stroke="#bf5a42" stroke-width="1.2"/>
<rect x="651.1" y="533.9" width="20.5" height="20.399999999999977" fill="#f6c9bc" stroke="#bf5a42" stroke-width="1.2"/>
<rect x="548.1" y="551.3" width="124.0" height="3" fill="#ec4a1e"/>
<rect x="567.9" y="549.3" width="2.4" height="2" fill="#ec4a1e"/>
<rect x="588.4" y="549.3" width="2.4" height="2" fill="#ec4a1e"/>
<rect x="608.9" y="549.3" width="2.4" height="2" fill="#ec4a1e"/>
<rect x="629.4" y="549.3" width="2.4" height="2" fill="#ec4a1e"/>
<rect x="649.9" y="549.3" width="2.4" height="2" fill="#ec4a1e"/>
<text x="676" y="518" font-family="Liberation Sans" font-size="4.6" font-weight="normal" fill="#c24e3e" textLength="18" lengthAdjust="spacingAndGlyphs">TICKET</text>
<text x="676" y="539" font-family="Liberation Sans" font-size="4.4" font-weight="normal" fill="#c24e3e" textLength="18" lengthAdjust="spacingAndGlyphs">QUOTA</text>
<text x="676" y="545" font-family="Liberation Sans" font-size="4.4" font-weight="normal" fill="#c24e3e" textLength="22" lengthAdjust="spacingAndGlyphs">DR. CHIAM</text>
<text x="676" y="551" font-family="Liberation Sans" font-size="4.4" font-weight="normal" fill="#c24e3e" textLength="16" lengthAdjust="spacingAndGlyphs">ALTRO</text>
<line x1="713" y1="557.3" x2="722.7" y2="557.3" stroke="#222" stroke-width="1.2"/>
<line x1="513" y1="563.6" x2="715.5" y2="563.6" stroke="#c86450" stroke-width="1.5"/>
<rect x="23" y="552" width="4" height="8" fill="#222"/>
<rect x="188.5" y="425" width="2.5" height="40" fill="#ef6a4a"/>
<path d="M26.8 515 V556 Q26.8 564 35.5 564 H169.5 Q178.2 564 178.2 556 V515" fill="none" stroke="#d9643f" stroke-width="1.3"/>
<rect x="29.7" y="497.4" width="20.06" height="19.800000000000068" fill="#fff" stroke="#bf5a42" stroke-width="1.6"/>
<rect x="49.76" y="497.4" width="20.06" height="19.800000000000068" fill="#fff" stroke="#bf5a42" stroke-width="1.6"/>
<rect x="69.82" y="497.4" width="20.06" height="19.800000000000068" fill="#fff" stroke="#bf5a42" stroke-width="1.6"/>
<rect x="89.88" y="497.4" width="20.06" height="19.800000000000068" fill="#fff" stroke="#bf5a42" stroke-width="1.6"/>
<rect x="109.94" y="497.4" width="20.06" height="19.800000000000068" fill="#fff" stroke="#bf5a42" stroke-width="1.6"/>
<rect x="29.2" y="514.6" width="101.3" height="2.6" fill="#ec4a1e"/>
<rect x="48.56" y="512.6" width="2.4" height="2" fill="#ec4a1e"/>
<rect x="68.62" y="512.6" width="2.4" height="2" fill="#ec4a1e"/>
<rect x="88.68" y="512.6" width="2.4" height="2" fill="#ec4a1e"/>
<rect x="108.74" y="512.6" width="2.4" height="2" fill="#ec4a1e"/>
<rect x="133.7" y="497.4" width="20.2" height="19.800000000000068" fill="#f6c9bc" stroke="#bf5a42" stroke-width="1.6"/>
<rect x="153.9" y="497.4" width="20.2" height="19.800000000000068" fill="#f6c9bc" stroke="#bf5a42" stroke-width="1.6"/>
<rect x="133.2" y="514.6" width="41.400000000000006" height="2.6" fill="#ec4a1e"/>
<rect x="152.7" y="512.6" width="2.4" height="2" fill="#ec4a1e"/>
<text x="63.7" y="522.3" font-family="Liberation Sans" font-size="4.6" font-weight="normal" fill="#c24e3e" textLength="25.3" lengthAdjust="spacingAndGlyphs">CODICE</text>
<text x="135.7" y="522.3" font-family="Liberation Sans" font-size="4.6" font-weight="normal" fill="#c24e3e" textLength="28.6" lengthAdjust="spacingAndGlyphs">NUMERO</text>
<rect x="29.7" y="534.6" width="20.06" height="19.399999999999977" fill="#fff" stroke="#bf5a42" stroke-width="1.6"/>
<rect x="49.76" y="534.6" width="20.06" height="19.399999999999977" fill="#fff" stroke="#bf5a42" stroke-width="1.6"/>
<rect x="69.82" y="534.6" width="20.06" height="19.399999999999977" fill="#fff" stroke="#bf5a42" stroke-width="1.6"/>
<rect x="89.88" y="534.6" width="20.06" height="19.399999999999977" fill="#fff" stroke="#bf5a42" stroke-width="1.6"/>
<rect x="109.94" y="534.6" width="20.06" height="19.399999999999977" fill="#fff" stroke="#bf5a42" stroke-width="1.6"/>
<rect x="29.2" y="551.4" width="101.3" height="2.6" fill="#ec4a1e"/>
<rect x="48.56" y="549.4" width="2.4" height="2" fill="#ec4a1e"/>
<rect x="68.62" y="549.4" width="2.4" height="2" fill="#ec4a1e"/>
<rect x="88.68" y="549.4" width="2.4" height="2" fill="#ec4a1e"/>
<rect x="108.74" y="549.4" width="2.4" height="2" fill="#ec4a1e"/>
<rect x="133.2" y="534.6" width="20.15" height="19.399999999999977" fill="#f6c9bc" stroke="#bf5a42" stroke-width="1.6"/>
<rect x="153.35" y="534.6" width="20.15" height="19.399999999999977" fill="#f6c9bc" stroke="#bf5a42" stroke-width="1.6"/>
<rect x="132.7" y="551.4" width="41.30000000000001" height="2.6" fill="#ec4a1e"/>
<rect x="152.15" y="549.4" width="2.4" height="2" fill="#ec4a1e"/>
<text x="63.7" y="562" font-family="Liberation Sans" font-size="4.6" font-weight="normal" fill="#c24e3e" textLength="25.3" lengthAdjust="spacingAndGlyphs">CODICE</text>
<text x="135.7" y="562" font-family="Liberation Sans" font-size="4.6" font-weight="normal" fill="#c24e3e" textLength="28.6" lengthAdjust="spacingAndGlyphs">NUMERO</text>
<rect x="23.5" y="395" width="154.5" height="101.5" fill="#fff"/>
<rect x="159.5" y="395.3" width="17.8" height="100.7" fill="#b2b2b2"/>
<path d="M30.5 395 Q24.3 395.5 24.3 402 V489 Q24.3 495.5 30.5 496" fill="none" stroke="#222" stroke-width="1.1"/>
<path d="M171.0 395 Q177.2 395.5 177.2 402 V489 Q177.2 495.5 171.0 496" fill="none" stroke="#333" stroke-width="1"/>
<rect x="34.5" y="399.5" width="1.0" height="15.5" fill="#111"/>
<rect x="36.5" y="399.5" width="1.3" height="15.5" fill="#111"/>
<rect x="38.8" y="399.5" width="1.9" height="15.5" fill="#111"/>
<rect x="43.3" y="399.5" width="1.9" height="15.5" fill="#111"/>
<rect x="47.8" y="399.5" width="1.0" height="15.5" fill="#111"/>
<rect x="49.8" y="399.5" width="1.9" height="15.5" fill="#111"/>
<rect x="52.7" y="399.5" width="1.9" height="15.5" fill="#111"/>
<rect x="57.2" y="399.5" width="2.4" height="15.5" fill="#111"/>
<rect x="60.6" y="399.5" width="1.9" height="15.5" fill="#111"/>
<rect x="64.4" y="399.5" width="1.0" height="15.5" fill="#111"/>
<rect x="66.4" y="399.5" width="1.3" height="15.5" fill="#111"/>
<rect x="68.7" y="399.5" width="0.8" height="15.5" fill="#111"/>
<rect x="70.5" y="399.5" width="2.4" height="15.5" fill="#111"/>
<rect x="73.9" y="399.5" width="1.9" height="15.5" fill="#111"/>
<rect x="77.2" y="399.5" width="1.9" height="15.5" fill="#111"/>
<rect x="80.1" y="399.5" width="2.4" height="15.5" fill="#111"/>
<rect x="83.9" y="399.5" width="1.9" height="15.5" fill="#111"/>
<rect x="88.4" y="399.5" width="2.4" height="15.5" fill="#111"/>
<rect x="92.2" y="399.5" width="1.3" height="15.5" fill="#111"/>
<rect x="94.9" y="399.5" width="1.0" height="15.5" fill="#111"/>
<rect x="98.5" y="399.5" width="1.3" height="15.5" fill="#111"/>
<rect x="100.8" y="399.5" width="1.9" height="15.5" fill="#111"/>
<rect x="103.7" y="399.5" width="1.0" height="15.5" fill="#111"/>
<rect x="106.6" y="399.5" width="0.8" height="15.5" fill="#111"/>
<rect x="109.3" y="399.5" width="2.4" height="15.5" fill="#111"/>
<rect x="114.3" y="399.5" width="2.4" height="15.5" fill="#111"/>
<rect x="118.1" y="399.5" width="1.3" height="15.5" fill="#111"/>
<rect x="121.3" y="399.5" width="2.4" height="15.5" fill="#111"/>
<rect x="126.3" y="399.5" width="2.4" height="15.5" fill="#111"/>
<rect x="131.3" y="399.5" width="2.4" height="15.5" fill="#111"/>
<rect x="134.7" y="399.5" width="1.9" height="15.5" fill="#111"/>
<rect x="138.0" y="399.5" width="1.9" height="15.5" fill="#111"/>
<rect x="142.5" y="399.5" width="1.0" height="15.5" fill="#111"/>
<rect x="145.4" y="399.5" width="2.4" height="15.5" fill="#111"/>
<text x="92.0" y="428.8" font-family="Liberation Serif" font-size="7.6" font-weight="bold" fill="#111" textLength="101.6" lengthAdjust="spacingAndGlyphs" text-anchor="middle">Nome commerciale del prodotto</text>
<use href="#aic" x="46.8" y="439.4"/>
<text x="95.0" y="460" font-family="Liberation Serif" font-size="7.8" font-weight="bold" fill="#111" textLength="54" lengthAdjust="spacingAndGlyphs" text-anchor="middle">Titolare dell'AIC</text>
<rect x="38.5" y="465" width="1.2" height="28" fill="#111"/>
<rect x="41.5" y="465" width="2.2" height="28" fill="#111"/>
<rect x="45.0" y="465" width="1.2" height="28" fill="#111"/>
<rect x="47.1" y="465" width="0.9" height="28" fill="#111"/>
<rect x="49.3" y="465" width="1.2" height="28" fill="#111"/>
<rect x="51.8" y="465" width="2.2" height="28" fill="#111"/>
<rect x="54.9" y="465" width="2.2" height="28" fill="#111"/>
<rect x="59.5" y="465" width="2.2" height="28" fill="#111"/>
<rect x="64.1" y="465" width="2.2" height="28" fill="#111"/>
<rect x="67.6" y="465" width="2.2" height="28" fill="#111"/>
<rect x="70.7" y="465" width="2.2" height="28" fill="#111"/>
<rect x="74.2" y="465" width="0.9" height="28" fill="#111"/>
<rect x="76.9" y="465" width="2.8" height="28" fill="#111"/>
<rect x="82.1" y="465" width="2.2" height="28" fill="#111"/>
<rect x="86.7" y="465" width="0.9" height="28" fill="#111"/>
<rect x="89.4" y="465" width="0.9" height="28" fill="#111"/>
<rect x="91.2" y="465" width="2.2" height="28" fill="#111"/>
<rect x="95.8" y="465" width="0.9" height="28" fill="#111"/>
<rect x="97.6" y="465" width="1.6" height="28" fill="#111"/>
<rect x="100.5" y="465" width="0.9" height="28" fill="#111"/>
<rect x="103.8" y="465" width="2.8" height="28" fill="#111"/>
<rect x="107.9" y="465" width="2.8" height="28" fill="#111"/>
<rect x="112.0" y="465" width="2.8" height="28" fill="#111"/>
<rect x="115.7" y="465" width="2.8" height="28" fill="#111"/>
<rect x="119.4" y="465" width="2.2" height="28" fill="#111"/>
<rect x="122.9" y="465" width="1.2" height="28" fill="#111"/>
<rect x="126.5" y="465" width="2.8" height="28" fill="#111"/>
<rect x="131.7" y="465" width="1.6" height="28" fill="#111"/>
<rect x="135.1" y="465" width="2.2" height="28" fill="#111"/>
<rect x="138.6" y="465" width="1.2" height="28" fill="#111"/>
<rect x="140.7" y="465" width="2.8" height="28" fill="#111"/>
<text transform="translate(161.0,493.4) rotate(-90)" font-family="Liberation Serif" font-size="7.4" fill="#222" textLength="92" lengthAdjust="spacingAndGlyphs">Numero progressivo in chiaro</text>
<text transform="translate(173.0,492.6) rotate(-90)" font-family="Liberation Sans" font-weight="bold" font-size="10.6" fill="#111" textLength="54" lengthAdjust="spacingAndGlyphs">123456789</text>
<path d="M190.5 515 V556 Q190.5 564 199.2 564 H333.8 Q342.5 564 342.5 556 V515" fill="none" stroke="#d9643f" stroke-width="1.3"/>
<rect x="194.4" y="497.4" width="20.06" height="19.800000000000068" fill="#fff" stroke="#bf5a42" stroke-width="1.6"/>
<rect x="214.46" y="497.4" width="20.06" height="19.800000000000068" fill="#fff" stroke="#bf5a42" stroke-width="1.6"/>
<rect x="234.52" y="497.4" width="20.06" height="19.800000000000068" fill="#fff" stroke="#bf5a42" stroke-width="1.6"/>
<rect x="254.58" y="497.4" width="20.06" height="19.800000000000068" fill="#fff" stroke="#bf5a42" stroke-width="1.6"/>
<rect x="274.64" y="497.4" width="20.06" height="19.800000000000068" fill="#fff" stroke="#bf5a42" stroke-width="1.6"/>
<rect x="193.9" y="514.6" width="101.29999999999998" height="2.6" fill="#ec4a1e"/>
<rect x="213.26" y="512.6" width="2.4" height="2" fill="#ec4a1e"/>
<rect x="233.32" y="512.6" width="2.4" height="2" fill="#ec4a1e"/>
<rect x="253.38" y="512.6" width="2.4" height="2" fill="#ec4a1e"/>
<rect x="273.44" y="512.6" width="2.4" height="2" fill="#ec4a1e"/>
<rect x="298.4" y="497.4" width="20.2" height="19.800000000000068" fill="#f6c9bc" stroke="#bf5a42" stroke-width="1.6"/>
<rect x="318.6" y="497.4" width="20.2" height="19.800000000000068" fill="#f6c9bc" stroke="#bf5a42" stroke-width="1.6"/>
<rect x="297.9" y="514.6" width="41.400000000000034" height="2.6" fill="#ec4a1e"/>
<rect x="317.4" y="512.6" width="2.4" height="2" fill="#ec4a1e"/>
<text x="228.4" y="522.3" font-family="Liberation Sans" font-size="4.6" font-weight="normal" fill="#c24e3e" textLength="25.3" lengthAdjust="spacingAndGlyphs">CODICE</text>
<text x="300.4" y="522.3" font-family="Liberation Sans" font-size="4.6" font-weight="normal" fill="#c24e3e" textLength="28.6" lengthAdjust="spacingAndGlyphs">NUMERO</text>
<rect x="194.4" y="534.6" width="20.06" height="19.399999999999977" fill="#fff" stroke="#bf5a42" stroke-width="1.6"/>
<rect x="214.46" y="534.6" width="20.06" height="19.399999999999977" fill="#fff" stroke="#bf5a42" stroke-width="1.6"/>
<rect x="234.52" y="534.6" width="20.06" height="19.399999999999977" fill="#fff" stroke="#bf5a42" stroke-width="1.6"/>
<rect x="254.58" y="534.6" width="20.06" height="19.399999999999977" fill="#fff" stroke="#bf5a42" stroke-width="1.6"/>
<rect x="274.64" y="534.6" width="20.06" height="19.399999999999977" fill="#fff" stroke="#bf5a42" stroke-width="1.6"/>
<rect x="193.9" y="551.4" width="101.29999999999998" height="2.6" fill="#ec4a1e"/>
<rect x="213.26" y="549.4" width="2.4" height="2" fill="#ec4a1e"/>
<rect x="233.32" y="549.4" width="2.4" height="2" fill="#ec4a1e"/>
<rect x="253.38" y="549.4" width="2.4" height="2" fill="#ec4a1e"/>
<rect x="273.44" y="549.4" width="2.4" height="2" fill="#ec4a1e"/>
<rect x="297.9" y="534.6" width="20.15" height="19.399999999999977" fill="#f6c9bc" stroke="#bf5a42" stroke-width="1.6"/>
<rect x="318.05" y="534.6" width="20.15" height="19.399999999999977" fill="#f6c9bc" stroke="#bf5a42" stroke-width="1.6"/>
<rect x="297.4" y="551.4" width="41.30000000000007" height="2.6" fill="#ec4a1e"/>
<rect x="316.85" y="549.4" width="2.4" height="2" fill="#ec4a1e"/>
<text x="228.4" y="562" font-family="Liberation Sans" font-size="4.6" font-weight="normal" fill="#c24e3e" textLength="25.3" lengthAdjust="spacingAndGlyphs">CODICE</text>
<text x="300.4" y="562" font-family="Liberation Sans" font-size="4.6" font-weight="normal" fill="#c24e3e" textLength="28.6" lengthAdjust="spacingAndGlyphs">NUMERO</text>
<rect x="191.6" y="395" width="154.5" height="101.5" fill="#fff"/>
<rect x="327.6" y="395.3" width="17.8" height="100.7" fill="#b2b2b2"/>
<path d="M198.6 395 Q192.4 395.5 192.4 402 V489 Q192.4 495.5 198.6 496" fill="none" stroke="#222" stroke-width="1.1"/>
<path d="M339.1 395 Q345.3 395.5 345.3 402 V489 Q345.3 495.5 339.1 496" fill="none" stroke="#333" stroke-width="1"/>
<rect x="202.6" y="399.5" width="0.8" height="15.5" fill="#111"/>
<rect x="204.4" y="399.5" width="0.8" height="15.5" fill="#111"/>
<rect x="207.1" y="399.5" width="1.0" height="15.5" fill="#111"/>
<rect x="210.0" y="399.5" width="1.3" height="15.5" fill="#111"/>
<rect x="212.7" y="399.5" width="2.4" height="15.5" fill="#111"/>
<rect x="216.1" y="399.5" width="2.4" height="15.5" fill="#111"/>
<rect x="219.9" y="399.5" width="1.9" height="15.5" fill="#111"/>
<rect x="224.4" y="399.5" width="2.4" height="15.5" fill="#111"/>
<rect x="228.7" y="399.5" width="2.4" height="15.5" fill="#111"/>
<rect x="233.7" y="399.5" width="2.4" height="15.5" fill="#111"/>
<rect x="238.0" y="399.5" width="0.8" height="15.5" fill="#111"/>
<rect x="239.8" y="399.5" width="1.3" height="15.5" fill="#111"/>
<rect x="243.7" y="399.5" width="1.3" height="15.5" fill="#111"/>
<rect x="247.6" y="399.5" width="1.9" height="15.5" fill="#111"/>
<rect x="250.9" y="399.5" width="2.4" height="15.5" fill="#111"/>
<rect x="254.7" y="399.5" width="1.0" height="15.5" fill="#111"/>
<rect x="257.1" y="399.5" width="0.8" height="15.5" fill="#111"/>
<rect x="259.3" y="399.5" width="1.3" height="15.5" fill="#111"/>
<rect x="262.0" y="399.5" width="1.0" height="15.5" fill="#111"/>
<rect x="264.9" y="399.5" width="2.4" height="15.5" fill="#111"/>
<rect x="268.7" y="399.5" width="1.9" height="15.5" fill="#111"/>
<rect x="273.2" y="399.5" width="2.4" height="15.5" fill="#111"/>
<rect x="277.5" y="399.5" width="2.4" height="15.5" fill="#111"/>
<rect x="281.8" y="399.5" width="1.3" height="15.5" fill="#111"/>
<rect x="285.7" y="399.5" width="1.0" height="15.5" fill="#111"/>
<rect x="289.3" y="399.5" width="1.9" height="15.5" fill="#111"/>
<rect x="292.6" y="399.5" width="1.9" height="15.5" fill="#111"/>
<rect x="296.4" y="399.5" width="1.9" height="15.5" fill="#111"/>
<rect x="300.2" y="399.5" width="1.9" height="15.5" fill="#111"/>
<rect x="304.7" y="399.5" width="1.3" height="15.5" fill="#111"/>
<rect x="308.6" y="399.5" width="1.9" height="15.5" fill="#111"/>
<rect x="311.9" y="399.5" width="1.3" height="15.5" fill="#111"/>
<text x="260.1" y="428.8" font-family="Liberation Serif" font-size="7.6" font-weight="bold" fill="#111" textLength="101.6" lengthAdjust="spacingAndGlyphs" text-anchor="middle">Nome commerciale del prodotto</text>
<use href="#aic" x="214.9" y="439.4"/>
<text x="263.1" y="460" font-family="Liberation Serif" font-size="7.8" font-weight="bold" fill="#111" textLength="54" lengthAdjust="spacingAndGlyphs" text-anchor="middle">Titolare dell'AIC</text>
<rect x="206.6" y="465" width="2.2" height="28" fill="#111"/>
<rect x="210.6" y="465" width="1.6" height="28" fill="#111"/>
<rect x="213.5" y="465" width="1.2" height="28" fill="#111"/>
<rect x="215.6" y="465" width="1.6" height="28" fill="#111"/>
<rect x="219.6" y="465" width="2.8" height="28" fill="#111"/>
<rect x="223.3" y="465" width="1.6" height="28" fill="#111"/>
<rect x="225.8" y="465" width="2.2" height="28" fill="#111"/>
<rect x="229.3" y="465" width="2.2" height="28" fill="#111"/>
<rect x="233.9" y="465" width="1.2" height="28" fill="#111"/>
<rect x="236.4" y="465" width="1.2" height="28" fill="#111"/>
<rect x="238.5" y="465" width="0.9" height="28" fill="#111"/>
<rect x="240.7" y="465" width="2.8" height="28" fill="#111"/>
<rect x="244.4" y="465" width="2.2" height="28" fill="#111"/>
<rect x="247.5" y="465" width="1.6" height="28" fill="#111"/>
<rect x="250.4" y="465" width="1.2" height="28" fill="#111"/>
<rect x="254.0" y="465" width="0.9" height="28" fill="#111"/>
<rect x="256.7" y="465" width="1.2" height="28" fill="#111"/>
<rect x="260.3" y="465" width="1.6" height="28" fill="#111"/>
<rect x="263.7" y="465" width="0.9" height="28" fill="#111"/>
<rect x="265.9" y="465" width="0.9" height="28" fill="#111"/>
<rect x="269.2" y="465" width="0.9" height="28" fill="#111"/>
<rect x="272.5" y="465" width="2.2" height="28" fill="#111"/>
<rect x="276.0" y="465" width="0.9" height="28" fill="#111"/>
<rect x="278.2" y="465" width="2.2" height="28" fill="#111"/>
<rect x="281.3" y="465" width="2.8" height="28" fill="#111"/>
<rect x="285.0" y="465" width="0.9" height="28" fill="#111"/>
<rect x="287.2" y="465" width="1.2" height="28" fill="#111"/>
<rect x="290.2" y="465" width="0.9" height="28" fill="#111"/>
<rect x="292.0" y="465" width="1.2" height="28" fill="#111"/>
<rect x="294.1" y="465" width="2.8" height="28" fill="#111"/>
<rect x="297.8" y="465" width="2.8" height="28" fill="#111"/>
<rect x="303.0" y="465" width="2.8" height="28" fill="#111"/>
<rect x="307.1" y="465" width="2.2" height="28" fill="#111"/>
<text transform="translate(329.1,493.4) rotate(-90)" font-family="Liberation Serif" font-size="7.4" fill="#222" textLength="92" lengthAdjust="spacingAndGlyphs">Numero progressivo in chiaro</text>
<text transform="translate(341.1,492.6) rotate(-90)" font-family="Liberation Sans" font-weight="bold" font-size="10.6" fill="#111" textLength="54" lengthAdjust="spacingAndGlyphs">123456789</text>
<path d="M356 515 V556 Q356 564 364.7 564 H498.8 Q507.5 564 507.5 556 V515" fill="none" stroke="#d9643f" stroke-width="1.3"/>
<rect x="360.7" y="497.4" width="20.06" height="19.800000000000068" fill="#fff" stroke="#bf5a42" stroke-width="1.6"/>
<rect x="380.76" y="497.4" width="20.06" height="19.800000000000068" fill="#fff" stroke="#bf5a42" stroke-width="1.6"/>
<rect x="400.82" y="497.4" width="20.06" height="19.800000000000068" fill="#fff" stroke="#bf5a42" stroke-width="1.6"/>
<rect x="420.88" y="497.4" width="20.06" height="19.800000000000068" fill="#fff" stroke="#bf5a42" stroke-width="1.6"/>
<rect x="440.94" y="497.4" width="20.06" height="19.800000000000068" fill="#fff" stroke="#bf5a42" stroke-width="1.6"/>
<rect x="360.2" y="514.6" width="101.30000000000001" height="2.6" fill="#ec4a1e"/>
<rect x="379.56" y="512.6" width="2.4" height="2" fill="#ec4a1e"/>
<rect x="399.62" y="512.6" width="2.4" height="2" fill="#ec4a1e"/>
<rect x="419.68" y="512.6" width="2.4" height="2" fill="#ec4a1e"/>
<rect x="439.74" y="512.6" width="2.4" height="2" fill="#ec4a1e"/>
<rect x="464.7" y="497.4" width="20.2" height="19.800000000000068" fill="#f6c9bc" stroke="#bf5a42" stroke-width="1.6"/>
<rect x="484.9" y="497.4" width="20.2" height="19.800000000000068" fill="#f6c9bc" stroke="#bf5a42" stroke-width="1.6"/>
<rect x="464.2" y="514.6" width="41.400000000000034" height="2.6" fill="#ec4a1e"/>
<rect x="483.7" y="512.6" width="2.4" height="2" fill="#ec4a1e"/>
<text x="394.7" y="522.3" font-family="Liberation Sans" font-size="4.6" font-weight="normal" fill="#c24e3e" textLength="25.3" lengthAdjust="spacingAndGlyphs">CODICE</text>
<text x="466.7" y="522.3" font-family="Liberation Sans" font-size="4.6" font-weight="normal" fill="#c24e3e" textLength="28.6" lengthAdjust="spacingAndGlyphs">NUMERO</text>
<rect x="360.7" y="534.6" width="20.06" height="19.399999999999977" fill="#fff" stroke="#bf5a42" stroke-width="1.6"/>
<rect x="380.76" y="534.6" width="20.06" height="19.399999999999977" fill="#fff" stroke="#bf5a42" stroke-width="1.6"/>
<rect x="400.82" y="534.6" width="20.06" height="19.399999999999977" fill="#fff" stroke="#bf5a42" stroke-width="1.6"/>
<rect x="420.88" y="534.6" width="20.06" height="19.399999999999977" fill="#fff" stroke="#bf5a42" stroke-width="1.6"/>
<rect x="440.94" y="534.6" width="20.06" height="19.399999999999977" fill="#fff" stroke="#bf5a42" stroke-width="1.6"/>
<rect x="360.2" y="551.4" width="101.30000000000001" height="2.6" fill="#ec4a1e"/>
<rect x="379.56" y="549.4" width="2.4" height="2" fill="#ec4a1e"/>
<rect x="399.62" y="549.4" width="2.4" height="2" fill="#ec4a1e"/>
<rect x="419.68" y="549.4" width="2.4" height="2" fill="#ec4a1e"/>
<rect x="439.74" y="549.4" width="2.4" height="2" fill="#ec4a1e"/>
<rect x="464.2" y="534.6" width="20.15" height="19.399999999999977" fill="#f6c9bc" stroke="#bf5a42" stroke-width="1.6"/>
<rect x="484.35" y="534.6" width="20.15" height="19.399999999999977" fill="#f6c9bc" stroke="#bf5a42" stroke-width="1.6"/>
<rect x="463.7" y="551.4" width="41.30000000000001" height="2.6" fill="#ec4a1e"/>
<rect x="483.15" y="549.4" width="2.4" height="2" fill="#ec4a1e"/>
<text x="394.7" y="562" font-family="Liberation Sans" font-size="4.6" font-weight="normal" fill="#c24e3e" textLength="25.3" lengthAdjust="spacingAndGlyphs">CODICE</text>
<text x="466.7" y="562" font-family="Liberation Sans" font-size="4.6" font-weight="normal" fill="#c24e3e" textLength="28.6" lengthAdjust="spacingAndGlyphs">NUMERO</text>
<rect x="353" y="395" width="154.5" height="101.5" fill="#fff"/>
<rect x="489" y="395.3" width="17.8" height="100.7" fill="#b2b2b2"/>
<path d="M360 395 Q353.8 395.5 353.8 402 V489 Q353.8 495.5 360 496" fill="none" stroke="#222" stroke-width="1.1"/>
<path d="M500.5 395 Q506.7 395.5 506.7 402 V489 Q506.7 495.5 500.5 496" fill="none" stroke="#333" stroke-width="1"/>
<rect x="364" y="399.5" width="1.0" height="15.5" fill="#111"/>
<rect x="366.4" y="399.5" width="1.3" height="15.5" fill="#111"/>
<rect x="370.3" y="399.5" width="2.4" height="15.5" fill="#111"/>
<rect x="373.7" y="399.5" width="2.4" height="15.5" fill="#111"/>
<rect x="377.1" y="399.5" width="1.9" height="15.5" fill="#111"/>
<rect x="380.9" y="399.5" width="2.4" height="15.5" fill="#111"/>
<rect x="384.7" y="399.5" width="1.0" height="15.5" fill="#111"/>
<rect x="388.3" y="399.5" width="2.4" height="15.5" fill="#111"/>
<rect x="393.3" y="399.5" width="1.9" height="15.5" fill="#111"/>
<rect x="396.6" y="399.5" width="1.0" height="15.5" fill="#111"/>
<rect x="399.0" y="399.5" width="2.4" height="15.5" fill="#111"/>
<rect x="404.0" y="399.5" width="0.8" height="15.5" fill="#111"/>
<rect x="405.8" y="399.5" width="1.0" height="15.5" fill="#111"/>
<rect x="407.8" y="399.5" width="1.3" height="15.5" fill="#111"/>
<rect x="410.1" y="399.5" width="1.3" height="15.5" fill="#111"/>
<rect x="414.0" y="399.5" width="2.4" height="15.5" fill="#111"/>
<rect x="419.0" y="399.5" width="1.9" height="15.5" fill="#111"/>
<rect x="423.5" y="399.5" width="2.4" height="15.5" fill="#111"/>
<rect x="428.5" y="399.5" width="1.0" height="15.5" fill="#111"/>
<rect x="431.4" y="399.5" width="0.8" height="15.5" fill="#111"/>
<rect x="433.2" y="399.5" width="1.0" height="15.5" fill="#111"/>
<rect x="436.8" y="399.5" width="1.0" height="15.5" fill="#111"/>
<rect x="439.7" y="399.5" width="1.9" height="15.5" fill="#111"/>
<rect x="443.5" y="399.5" width="1.9" height="15.5" fill="#111"/>
<rect x="448.0" y="399.5" width="2.4" height="15.5" fill="#111"/>
<rect x="452.3" y="399.5" width="2.4" height="15.5" fill="#111"/>
<rect x="457.3" y="399.5" width="2.4" height="15.5" fill="#111"/>
<rect x="461.1" y="399.5" width="1.3" height="15.5" fill="#111"/>
<rect x="463.4" y="399.5" width="1.3" height="15.5" fill="#111"/>
<rect x="466.1" y="399.5" width="1.3" height="15.5" fill="#111"/>
<rect x="468.4" y="399.5" width="1.0" height="15.5" fill="#111"/>
<rect x="471.3" y="399.5" width="1.3" height="15.5" fill="#111"/>
<rect x="473.6" y="399.5" width="0.8" height="15.5" fill="#111"/>
<text x="421.5" y="428.8" font-family="Liberation Serif" font-size="7.6" font-weight="bold" fill="#111" textLength="101.6" lengthAdjust="spacingAndGlyphs" text-anchor="middle">Nome commerciale del prodotto</text>
<use href="#aic" x="376.3" y="439.4"/>
<text x="424.5" y="460" font-family="Liberation Serif" font-size="7.8" font-weight="bold" fill="#111" textLength="54" lengthAdjust="spacingAndGlyphs" text-anchor="middle">Titolare dell'AIC</text>
<rect x="368" y="465" width="2.8" height="28" fill="#111"/>
<rect x="371.7" y="465" width="2.2" height="28" fill="#111"/>
<rect x="376.3" y="465" width="2.8" height="28" fill="#111"/>
<rect x="380.0" y="465" width="1.2" height="28" fill="#111"/>
<rect x="383.6" y="465" width="2.2" height="28" fill="#111"/>
<rect x="387.6" y="465" width="1.2" height="28" fill="#111"/>
<rect x="389.7" y="465" width="2.8" height="28" fill="#111"/>
<rect x="394.9" y="465" width="1.6" height="28" fill="#111"/>
<rect x="397.4" y="465" width="1.2" height="28" fill="#111"/>
<rect x="400.4" y="465" width="0.9" height="28" fill="#111"/>
<rect x="403.7" y="465" width="1.2" height="28" fill="#111"/>
<rect x="406.7" y="465" width="2.2" height="28" fill="#111"/>
<rect x="411.3" y="465" width="1.6" height="28" fill="#111"/>
<rect x="414.7" y="465" width="2.2" height="28" fill="#111"/>
<rect x="418.2" y="465" width="1.6" height="28" fill="#111"/>
<rect x="421.6" y="465" width="1.2" height="28" fill="#111"/>
<rect x="425.2" y="465" width="1.2" height="28" fill="#111"/>
<rect x="428.8" y="465" width="2.8" height="28" fill="#111"/>
<rect x="434.0" y="465" width="0.9" height="28" fill="#111"/>
<rect x="435.8" y="465" width="1.2" height="28" fill="#111"/>
<rect x="438.3" y="465" width="1.2" height="28" fill="#111"/>
<rect x="441.3" y="465" width="2.8" height="28" fill="#111"/>
<rect x="445.9" y="465" width="1.2" height="28" fill="#111"/>
<rect x="448.9" y="465" width="2.8" height="28" fill="#111"/>
<rect x="454.1" y="465" width="2.2" height="28" fill="#111"/>
<rect x="458.7" y="465" width="0.9" height="28" fill="#111"/>
<rect x="461.4" y="465" width="2.8" height="28" fill="#111"/>
<rect x="465.5" y="465" width="1.2" height="28" fill="#111"/>
<rect x="469.1" y="465" width="1.2" height="28" fill="#111"/>
<rect x="471.2" y="465" width="0.9" height="28" fill="#111"/>
<text transform="translate(490.5,493.4) rotate(-90)" font-family="Liberation Serif" font-size="7.4" fill="#222" textLength="92" lengthAdjust="spacingAndGlyphs">Numero progressivo in chiaro</text>
<text transform="translate(502.5,492.6) rotate(-90)" font-family="Liberation Sans" font-weight="bold" font-size="10.6" fill="#111" textLength="54" lengthAdjust="spacingAndGlyphs">123456789</text>
<g>
<path d="M545 477 V452 Q545 443.5 554 443.5 H617 Q626 443.5 626 452 V466 L620 471 H545 Z" fill="#e3e3e5" stroke="#c4c4c6" stroke-width="0.8"/>
<rect x="557" y="449.7" width="54" height="8.3" fill="#fbfbfb"/>
<path d="M558 458 L611 456.5 L623 458 L624 476 H558 Z" fill="#3a3e42"/>
<path d="M571 447 L569 431 Q575 425 590 424.5 Q604 425 606.5 430 L604.5 447 Z" fill="#ececec" stroke="#cfcfcf" stroke-width="0.6"/>
<path d="M567.5 432 Q565.5 416 587 414.8 Q606 415 606.6 426 Q596 421 585 424.5 Q574 428 570 434 Z" fill="#dc2a1c"/>
<text x="586" y="433" font-family="Liberation Sans" font-size="3.6" font-weight="bold" fill="#555" transform="rotate(-12 590 433)">trodat</text>
<path d="M544.7 474 Q585 467.5 627 471 V481.5 Q585 478.5 544.7 482.5 Z" fill="#2f3337"/>
<path d="M545 474.6 Q585 468.5 626.5 471.8" fill="none" stroke="#6c7074" stroke-width="1"/>
<rect x="541.2" y="474" width="4.5" height="6.5" fill="#a8342a"/>
<path d="M545.3 481 H627.8 V503 L621 508 L601 513.5 H556 L547 507 Z" fill="#282b2f"/>
<path d="M566 484.2 L616 483.7 V496 L566 497 Z" fill="#c2c2c2"/>
<g stroke="#7c7c7c" stroke-width="1.2">
<line x1="569" y1="484.5" x2="569" y2="496.5"/><line x1="573.5" y1="484.5" x2="573.5" y2="496.5"/><line x1="578" y1="484.5" x2="578" y2="496.5"/><line x1="582.5" y1="484.5" x2="582.5" y2="496.5"/><line x1="587" y1="484.5" x2="587" y2="496.5"/><line x1="591.5" y1="484.5" x2="591.5" y2="496.5"/><line x1="596" y1="484.5" x2="596" y2="496"/><line x1="600.5" y1="484.5" x2="600.5" y2="496"/><line x1="605" y1="484.5" x2="605" y2="496"/><line x1="609.5" y1="484.5" x2="609.5" y2="496"/><line x1="614" y1="484.5" x2="614" y2="496"/>
</g>
<path d="M566 497.6 L616 497 L620.5 504 L562.3 505.6 Z" fill="#efefef"/>
</g>
<rect x="736" y="279" width="112.5" height="131" fill="#12afec"/>
<rect x="736" y="428" width="112.5" height="79" fill="#12afec"/>
<rect x="124.7" y="589.7" width="317.5" height="31" fill="#12afec"/>
<text x="28.4" y="38.4" font-family="Liberation Sans" font-size="13.6" font-weight="bold" fill="#0d1f3f" textLength="316.5" lengthAdjust="spacingAndGlyphs" stroke="#0d1f3f" stroke-width="0.45">NEL RETRO SI ANNOTANO DATI ACQUIRENTE E</text>
<text x="75" y="58" font-family="Liberation Sans" font-size="13.6" font-weight="bold" fill="#0d1f3f" textLength="217.5" lengthAdjust="spacingAndGlyphs" stroke="#0d1f3f" stroke-width="0.45">DOCUMENTO&#160; RICONOSCIMENTO</text>
<text x="444" y="73" font-family="Liberation Sans" font-size="14.6" font-weight="bold" fill="#0d1f3f" textLength="205.7" lengthAdjust="spacingAndGlyphs" stroke="#0d1f3f" stroke-width="0.45">CODICE FISCALE&#160; ASSISTITO</text>
<text x="745.2" y="295.5" font-family="Liberation Sans" font-size="12" font-weight="bold" fill="#0d1f3f" stroke="#0d1f3f" stroke-width="0.4">TIMBRO E</text>
<text x="745.2" y="313.02" font-family="Liberation Sans" font-size="12" font-weight="bold" fill="#0d1f3f" stroke="#0d1f3f" stroke-width="0.4">FIRMA DEL</text>
<text x="745.2" y="330.54" font-family="Liberation Sans" font-size="12" font-weight="bold" fill="#0d1f3f" textLength="79.5" lengthAdjust="spacingAndGlyphs" stroke="#0d1f3f" stroke-width="0.4">MEDICO CON</text>
<text x="745.2" y="348.06" font-family="Liberation Sans" font-size="12" font-weight="bold" fill="#0d1f3f" stroke="#0d1f3f" stroke-width="0.4">INDIRIZZO E</text>
<text x="745.2" y="365.58" font-family="Liberation Sans" font-size="12" font-weight="bold" fill="#0d1f3f" stroke="#0d1f3f" stroke-width="0.4">NUMERO</text>
<text x="745.2" y="383.1" font-family="Liberation Sans" font-size="12" font-weight="bold" fill="#0d1f3f" stroke="#0d1f3f" stroke-width="0.4">TELEFONICO</text>
<text x="745.2" y="400.62" font-family="Liberation Sans" font-size="12" font-weight="bold" fill="#0d1f3f" textLength="93.5" lengthAdjust="spacingAndGlyphs" stroke="#0d1f3f" stroke-width="0.4">PROFESSIONALI</text>
<text x="745.2" y="444.8" font-family="Liberation Sans" font-size="12" font-weight="bold" fill="#0d1f3f" stroke="#0d1f3f" stroke-width="0.4">TIMBRO</text>
<text x="745.2" y="462.32" font-family="Liberation Sans" font-size="12" font-weight="bold" fill="#0d1f3f" textLength="92.5" lengthAdjust="spacingAndGlyphs" stroke="#0d1f3f" stroke-width="0.4">FARMACIA CON</text>
<text x="745.2" y="479.84000000000003" font-family="Liberation Sans" font-size="12" font-weight="bold" fill="#0d1f3f" stroke="#0d1f3f" stroke-width="0.4">DATA</text>
<text x="745.2" y="497.36" font-family="Liberation Sans" font-size="12" font-weight="bold" fill="#0d1f3f" stroke="#0d1f3f" stroke-width="0.4">SPEDIZIONE</text>
<text x="248" y="610.1" font-family="Liberation Sans" font-size="16" font-weight="bold" fill="#0d1f3f" textLength="70.4" lengthAdjust="spacingAndGlyphs" stroke="#0d1f3f" stroke-width="0.45">FUSTELLE</text>
<rect x="534.5" y="569.5" width="135" height="49.3" fill="none" stroke="#c0504d" stroke-width="1.2"/>
<text x="575" y="604.4" font-family="Liberation Sans" font-size="31" font-weight="bold" fill="#c00000" textLength="50.6" lengthAdjust="spacingAndGlyphs" stroke="#c00000" stroke-width="0.5">SSN</text>
<text x="787" y="614" font-family="Liberation Sans" font-size="12" font-weight="normal" fill="#8c8c8c" textLength="14.4" lengthAdjust="spacingAndGlyphs">33</text>
<g fill="#4674b8" stroke="#2c5290" stroke-width="1.2" stroke-linejoin="miter">
<path d="M520 83.5 H548.7 V118.5 H563.2 L534.2 147.4 L506.8 118.5 H520 Z"/>
<path d="M273 590 V547.4 H263.4 L282.7 527.3 L301.7 547.4 H293 V590 Z"/>
<path d="M737 328 H698.4 V317 L675.4 339.5 L698.4 362 V350.5 H737 Z"/>
<path d="M737 457 H698.4 V445 L675.4 468 L698.4 490 V480 H737 Z"/>
</g>
<path d="M186.5 68 C186.5 85 189.5 96 198 101 Q202.5 103.2 208 103.2 Q217.8 103 224.4 94.6 Q228.5 88 229 77.4 H233.5 L224.4 67.8 L215 77.4 H218.2 Q218 88 212.9 94.6 Q210.5 98.5 208 100.4 Q202 95 199.2 85.5 Q197 77 196.8 68 Z" fill="#4672b6" stroke="#2a4f8e" stroke-width="1.1"/>
<path d="M603.6 414 V384 Q603.6 376.5 610.5 376.5 Q617.2 376.5 617.2 382.5 Q617.2 388.5 609.5 389 Q619.8 389.5 619.8 398 Q619.8 406 611.5 406 Q606 406 603.6 402" fill="none" stroke="#1c2c7c" stroke-width="2.7"/>

</svg>
</body></html>
